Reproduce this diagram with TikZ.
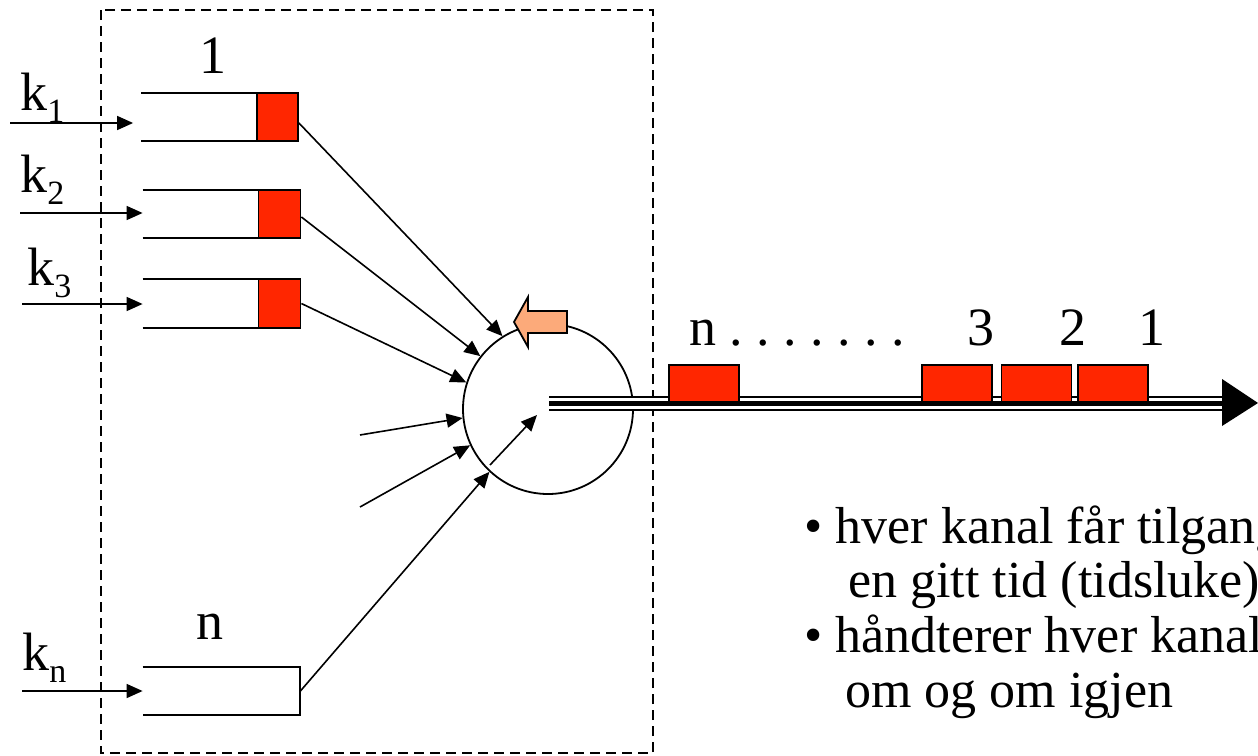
\documentclass[tikz,border=0pt]{standalone}
\usepackage{fontspec}
\setmainfont{Liberation Serif}
\usetikzlibrary{arrows.meta,calc}
\definecolor{slotred}{RGB}{255,38,0}
\definecolor{pointer}{RGB}{252,170,122}
\newcommand\ksub[1]{k{\fontsize{17}{17}\selectfont\raisebox{-6pt}{#1}}}
\newcommand\gapdot{\hspace{6.75pt}.}
\begin{document}
\begin{tikzpicture}[x=0.5pt,y=-0.5pt,
  lbl/.style={inner sep=0, font=\fontsize{27}{30}\selectfont},
  body/.style={inner sep=0, anchor=base west, font=\fontsize{26}{30}\selectfont},
  queue/.style={inner sep=0, minimum height=24pt},
  qbox/.style={draw, fill=slotred, line width=0.8pt, inner sep=0, minimum width=21pt, minimum height=24pt},
  slot/.style={draw, fill=slotred, line width=0.8pt, inner sep=0, minimum width=35pt, minimum height=18.5pt},
  feed/.style={-{Triangle[length=8pt,width=7pt]}, line width=0.8pt},
  qline/.style={line width=1pt}]
\useasboundingbox (0,0) rectangle (1258,755);
\clip (0,0) rectangle (1258,755);

% multiplexer frame
\draw[line width=0.9pt, dash pattern=on 5pt off 3pt] (101,10) rectangle (653,753);

% input queues
\node[queue, minimum width=78.5pt] (q1) at (220,117) {};
\node[queue, minimum width=79pt] (q2) at (222,214) {};
\node[queue, minimum width=79pt] (q3) at (222,303.5) {};
\node[queue, minimum width=78.5pt] (qn) at (221.5,691) {};
\foreach \q in {q1,q2,q3}
  \draw[qline] (\q.north west) -- (\q.north east) (\q.south west) -- (\q.south east);
\draw[qline] (qn.north west) -- (qn.north east) -- (qn.south east) -- (qn.south west);

% packets waiting at the head of each queue
\node[qbox, anchor=east, minimum width=20.5pt] (b1) at (q1.east) {};
\node[qbox, anchor=east] (b2) at (q2.east) {};
\node[qbox, anchor=east] (b3) at (q3.east) {};

% queue labels
\node[lbl, anchor=base] (l1) at (213,73) {1};
\node[lbl, anchor=base] (ln) at (210,639) {n};

% incoming channels
\coordinate (in1) at (10,123);
\coordinate (in2) at (20,213);
\coordinate (in3) at (22,304);
\coordinate (inn) at (22,691);
\draw[feed, shorten >=4pt] (in1) -- (in1 -| q1.west);
\draw[feed] (in2) -- (in2 -| q2.west);
\draw[feed] (in3) -- (in3 -| q3.west);
\draw[feed] (inn) -- (inn -| qn.west);
\node[lbl, anchor=base west] (k1) at (20,110) {\ksub{1}};
\node[lbl, anchor=base west] (k2) at (20,192) {\ksub{2}};
\node[lbl, anchor=base west] (k3) at (27,285) {\ksub{3}};
\node[lbl, anchor=base west] (kn) at (22,670) {\ksub{n}};

% round-robin switch
\node[circle, draw, line width=0.9pt, minimum size=85pt, inner sep=0] (mux) at (548,409) {};
\draw[feed] ([yshift=-3pt]b1.east) -- (mux.122);
\draw[feed] ([yshift=-1.5pt]b2.east) -- (mux.142);
\draw[feed] (b3.east) -- (mux.162);
\coordinate (f1) at (360,435);
\coordinate (f2) at (360,507);
\draw[feed] (f1) -- (mux.186);
\draw[feed] (f2) -- (mux.205);
\draw[feed] (qn.east) -- (mux.227);
\draw[feed] ($(mux.center)+(-58,56)$) -- ($(mux.center)+(-11,6)$);

% rotation pointer
\draw[line width=0.9pt, fill=pointer]
  (514,322) -- (528,297) -- (528,311) -- (567,311) -- (567,333) -- (528,333) -- (528,347) -- cycle;

% outgoing line
\coordinate (ostart) at ($(mux.center)+(1,-6)$);
\coordinate (oend) at (1222,403);
\draw[line width=7.5pt] (ostart) -- (oend);
\draw[white, line width=5.5pt] (ostart) -- (oend);
\draw[line width=2.5pt] (ostart) -- (oend);
\fill (oend) ++(0,-24) -- ++(36,24) -- ++(-36,23) -- cycle;

% time slots on the line
\node[slot] (sn) at (704,383.5) {};
\node[slot] (s3) at (957,383.5) {};
\node[slot] (s2) at (1036.5,383.5) {};
\node[slot] (s1) at (1113,383.5) {};
\node[lbl, anchor=base west] (on) at (689,345) {n\gapdot\gapdot\gapdot\gapdot\gapdot\gapdot\gapdot};
\node[lbl, anchor=base] (o3) at (981,345) {3};
\node[lbl, anchor=base] (o2) at (1073,345) {2};
\node[lbl, anchor=base] (o1) at (1152,345) {1};

% notes
\node[body] (t1) at (804,543) {• hver kanal får tilgang};
\node[body] (t2) at (848,597) {en gitt tid (tidsluke)};
\node[body] (t3) at (804,652) {• håndterer hver kanal};
\node[body] (t4) at (845,707) {om og om igjen};
\end{tikzpicture}
\end{document}
